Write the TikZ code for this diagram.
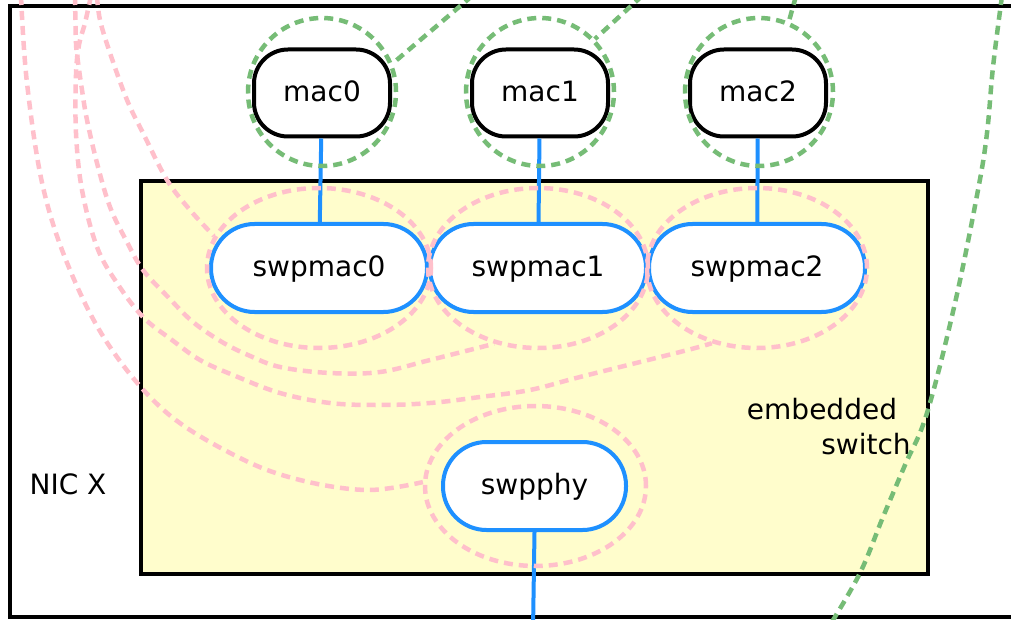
\documentclass[tikz,border=0pt]{standalone}
\usepackage{fontspec}
\setmainfont{DejaVu Sans}
\usetikzlibrary{shapes.geometric}
\definecolor{pinkc}{RGB}{255,192,203}
\definecolor{greenc}{RGB}{118,188,118}
\definecolor{bluec}{RGB}{30,144,255}
\definecolor{yellowc}{RGB}{255,253,204}
\tikzset{
  lbl/.style={font=\fontsize{28}{33}\selectfont, text height=20.3pt, text depth=2.5pt, inner sep=0pt},
  macbox/.style={lbl, draw=black, line width=4pt, fill=white, rounded corners=34pt,
    minimum width=136pt, minimum height=87pt},
  swpbox/.style={lbl, draw=bluec, line width=4pt, fill=white, rounded corners=43.5pt,
    minimum height=88pt},
  dsh/.style={line width=4.5pt, dash pattern=on 9pt off 6pt},
  greencirc/.style={circle, draw=greenc, dsh, minimum size=148pt, inner sep=0pt},
  pinkell/.style={ellipse, draw=pinkc, dsh, minimum width=222pt, minimum height=160pt, inner sep=0pt},
  pinkedge/.style={draw=pinkc, dsh},
  greenedge/.style={draw=greenc, dsh},
  blueedge/.style={draw=bluec, line width=4pt},
  frame/.style={draw=black, line width=4.5pt}
}
\begin{document}
\begin{tikzpicture}[x=1pt,y=-1pt]
\useasboundingbox (0,0) rectangle (1011,620);
\clip (0,0) rectangle (1011,620);
\fill[white] (0,0) rectangle (1011,620);
% NIC frame
\draw[frame] (10,6) rectangle (1040,617);
\node[lbl] (nic) at (68,486) {NIC X};
% embedded switch
\draw[frame, fill=yellowc] (141,181) rectangle (928,574);
\node[lbl] (emb) at (822,411) {embedded};
\node[lbl] (swi) at (866,446) {switch};
% mac nodes
\node[macbox] (mac0) at (322,93) {mac0};
\node[macbox] (mac1) at (540,93) {mac1};
\node[macbox] (mac2) at (758,93) {mac2};
% swp nodes
\node[swpbox, minimum width=216pt] (swpmac0) at (319,268) {swpmac0};
\node[swpbox, minimum width=216pt] (swpmac1) at (538,268) {swpmac1};
\node[swpbox, minimum width=216pt] (swpmac2) at (757,268) {swpmac2};
\node[swpbox, minimum width=183pt] (swpphy) at (534.5,486) {swpphy};
% blue links
\coordinate (phyout) at (533,630);
\draw[blueedge] (mac0) -- (swpmac0);
\draw[blueedge] (mac1) -- (swpmac1);
\draw[blueedge] (mac2) -- (swpmac2);
\draw[blueedge] (swpphy.south) -- (phyout);
% green circles
\node[greencirc] (c0) at (322,92) {};
\node[greencirc] (c1) at (540,92) {};
\node[greencirc] (c2) at (759,92) {};
% pink ellipses
\node[pinkell, minimum width=224pt] (e0) at (319,268) {};
\node[pinkell, minimum width=220pt] (e1) at (538,268) {};
\node[pinkell, minimum width=220pt] (e2) at (757,268) {};
\node[pinkell, minimum width=221pt] (ephy) at (535.5,486) {};
% green edges
\coordinate (g0) at (472,-4);
\coordinate (g1) at (642,-4);
\coordinate (g2) at (796,-4);
\coordinate (g3) at (1002,-4);
\coordinate (g3end) at (830,625);
\draw[greenedge] (g0) -- (c0.22);
\draw[greenedge] (g1) -- (c1.44);
\draw[greenedge] (g2) -- (c2.67);
\draw[greenedge] plot[smooth, tension=0.6] coordinates {(g3) (993,67) (987,133) (978,190) (955,303) (927,413) (905,465) (883,517) (860,573) (g3end)};
% pink edges
\coordinate (pA) at (21,-4);
\coordinate (pB) at (75,-4);
\coordinate (pC) at (91,-4);
\coordinate (pD) at (97,-4);
\draw[pinkedge] plot[smooth, tension=0.6] coordinates {(pA) (27,83) (43,187) (70,270) (110,347) (167,413) (240,458) (300,480) (367,490) (ephy.178)};
\draw[pinkedge] plot[smooth, tension=0.6] coordinates {(pB) (76,43) (78,62) (82,90) (87,120) (97,163) (110,207) (127,242) (143,270) (168,297) (193,322) (222,342) (248,355) (280,367) (330,373) (380,372) (430,360) (e1.240)};
\draw[pinkedge] plot[smooth, tension=0.6] coordinates {(pC) (85,23) (79,45) (76,75) (76,133) (82,190) (97,247) (117,283) (143,317) (172,340) (200,360) (233,375) (280,393) (330,403) (380,405) (430,403) (480,397) (530,390) (580,377) (680,352) (e2.239)};
\draw[pinkedge] plot[smooth, tension=0.6] coordinates {(pD) (100,20) (110,53) (127,100) (143,133) (167,180) (190,210) (e0.163)};
\end{tikzpicture}
\end{document}
